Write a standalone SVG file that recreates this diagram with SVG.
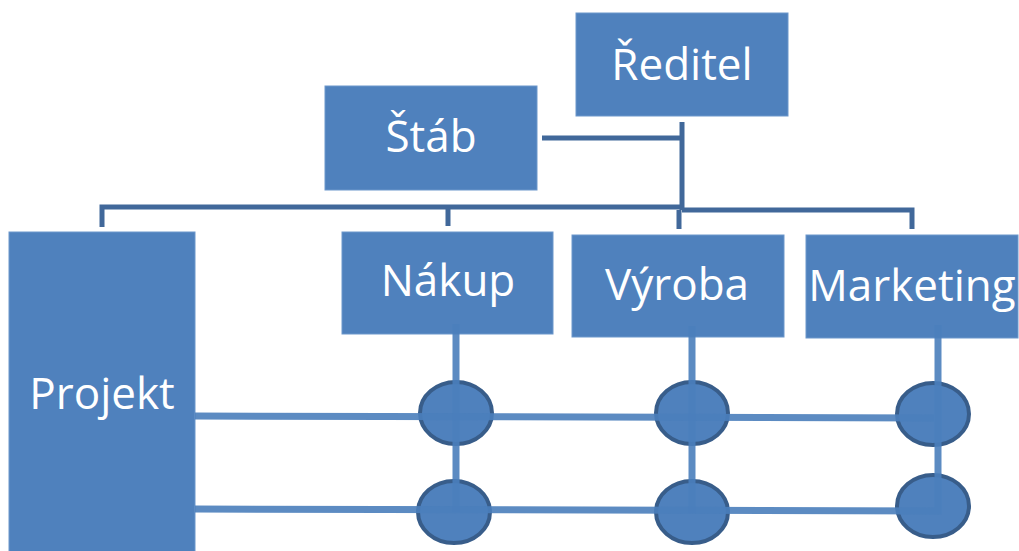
<svg xmlns="http://www.w3.org/2000/svg" width="1019" height="551" viewBox="0 0 1019 551">
<style>
.box{fill:#4f81bd;stroke:#6d97cb;stroke-width:1}
.lbl{font-family:"Open Sans","Noto Sans","DejaVu Sans",sans-serif;font-size:44px;fill:#ffffff;text-anchor:middle}
.bus{fill:none;stroke:#41689a;stroke-width:5;stroke-linecap:butt}
.mx{fill:none;stroke:#4a7ebb;stroke-width:7;opacity:0.9}
.node{fill:#4f81bd;stroke:#385d8a;stroke-width:4}
</style>
<rect width="1019" height="551" fill="#ffffff"/>
<g id="connectors">
<path class="bus" d="M542 138 H682 M682 122 V210 M102 227 V207 H682 M682 210 H912 V229 M448 207 V226 M679 210 V229"/>
</g>
<g id="reditel"><rect class="box" x="576" y="13" width="212" height="103"/><text class="lbl" x="682" y="80">Ředitel</text></g>
<g id="stab"><rect class="box" x="325" y="86" width="212" height="104"/><text class="lbl" x="431" y="152">Štáb</text></g>
<g id="projekt"><rect class="box" x="9" y="232" width="186" height="330"/><text class="lbl" x="102" y="409">Projekt</text></g>
<g id="nakup"><rect class="box" x="342" y="232" width="211" height="102"/><text class="lbl" x="448" y="296">Nákup</text></g>
<g id="vyroba"><rect class="box" x="572" y="235" width="212" height="102"/><text class="lbl" x="677" y="300">Výroba</text></g>
<g id="marketing"><rect class="box" x="806" y="235" width="212" height="103"/><text class="lbl" x="912" y="301">Marketing</text></g>
<g id="n1"><ellipse class="node" cx="456" cy="413" rx="36" ry="31"/></g>
<g id="n2"><ellipse class="node" cx="454" cy="512" rx="36" ry="31"/></g>
<g id="n3"><ellipse class="node" cx="692" cy="413" rx="36" ry="31"/></g>
<g id="n4"><ellipse class="node" cx="692" cy="512" rx="36" ry="31"/></g>
<g id="n5"><ellipse class="node" cx="933" cy="414" rx="36" ry="31"/></g>
<g id="n6"><ellipse class="node" cx="933" cy="506" rx="36" ry="31"/></g>
<g id="matrix-connectors">
<path class="mx" d="M195 416 L934 418"/>
<path class="mx" d="M195 509 L938 511 V325"/>
<path class="mx" d="M456 324 V512"/>
<path class="mx" d="M692 326 V513"/>
</g>
</svg>
